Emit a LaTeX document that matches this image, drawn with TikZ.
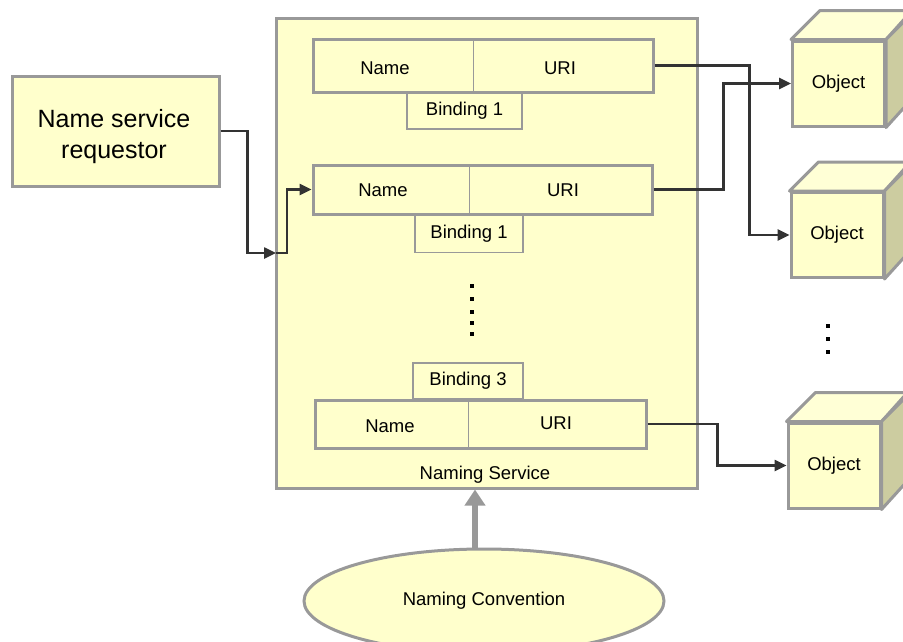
\documentclass[tikz,border=0pt]{standalone}
\usepackage{fontspec}
\setmainfont{Liberation Sans}
\usetikzlibrary{arrows.meta,shapes.geometric}
\definecolor{paleyellow}{HTML}{FFFFCC}
\definecolor{cubetop}{HTML}{FFFFD6}
\definecolor{cubeside}{HTML}{CCCCA0}
\definecolor{bordergray}{HTML}{999999}
\definecolor{linegray}{HTML}{333333}
\begin{document}
\begin{tikzpicture}[
    x=1pt, y=-1pt,
    every node/.style={font=\fontsize{18.5}{22}\selectfont, inner sep=0pt},
    box/.style={draw=bordergray, fill=paleyellow, line width=3pt},
    row/.style={draw=bordergray, line width=3pt},
    tag/.style={draw=bordergray, fill=paleyellow, line width=1.3pt},
    cube/.style={box, minimum width=92pt, minimum height=85pt},
    face/.style={draw=bordergray, line width=3pt, line join=round},
    dot/.style={fill=black, minimum size=4pt},
    conn/.style={draw=linegray, line width=2.5pt, -{Triangle[length=12pt,width=11pt]}},
    bigarrow/.style={draw=bordergray, line width=6pt, -{Triangle[length=16pt,width=20pt]}}
]
\useasboundingbox (0,0) rectangle (903,641);

% Naming service
\node[box, minimum width=421pt, minimum height=470pt] (ns) at (486.5,253) {};
\node (nsl) at (485,475) {Naming Service};

% Binding 1
\node[row, minimum width=340pt, minimum height=53pt] (r1) at (483,65.5) {};
\draw[bordergray, line width=1pt] (473,40) -- (473,91);
\node (n1) at (385,68) {Name};
\node (u1) at (560,68) {URI};
\node[tag, minimum width=115pt, minimum height=36pt] (b1) at (464.5,111) {Binding 1};

% Binding 2
\node[row, minimum width=339pt, minimum height=49pt] (r2) at (482.5,189.5) {};
\draw[bordergray, line width=1pt] (469,166) -- (469,213);
\node (n2) at (383,190) {Name};
\node (u2) at (563,190) {URI};
\node[tag, minimum width=108pt, minimum height=37pt] (b2) at (469,234) {Binding 1};

\foreach \y in {286,299,312,323,334}
    \node[dot] (d\y) at (472,\y) {};

% Binding 3
\node[tag, minimum width=110pt, minimum height=36pt] (b3) at (468,381) {Binding 3};
\node[row, minimum width=331pt, minimum height=48pt] (r3) at (480.5,424) {};
\draw[bordergray, line width=1pt] (468,401) -- (468,447);
\node (n3) at (390,426) {Name};
\node (u3) at (556,423) {URI};

% Requestor
\node[box, minimum width=207pt, minimum height=110pt] (req) at (115.5,131) {};
\node[align=center, font=\fontsize{25}{31}\selectfont] (reqt) at (114,137) {Name service\\requestor};

% Objects
\foreach \o/\x/\y in {obj1/838.5/83.5, obj2/837/235, obj3/834/465.5} {
    \node[cube] (\o) at (\x,\y) {Object};
    \draw[face, fill=cubetop] (\o.north west) -- ++(29,-29) -- ++(92,0) -- (\o.north east) -- cycle;
    \draw[face, fill=cubeside] (\o.north east) -- ++(29,-29) -- ++(0,85) -- (\o.south east) -- cycle;
}
\foreach \y in {326,339,352}
    \node[dot] (e\y) at (828,\y) {};

% Naming convention
\node[ellipse, draw=bordergray, fill=paleyellow, line width=3pt,
      minimum width=360pt, minimum height=104pt] (nc) at (484,601) {Naming Convention};

% Connectors
\coordinate (entry) at (276,253);
\coordinate (ax) at (475,0);
\draw[conn] (req.east) -- ++(27,0) |- (entry);
\draw[conn] (entry) -- ++(11,0) |- (r2.west);
\draw[conn] (r1.east) -- ++(95,0) |- (obj2.west);
\draw[conn] (r2.east) -- ++(70,0) |- (obj1.west);
\draw[conn] (r3.east) -- ++(70,0) |- (obj3.west);
\draw[bigarrow] (nc.north -| ax) -- (ns.south -| ax);
\end{tikzpicture}
\end{document}
